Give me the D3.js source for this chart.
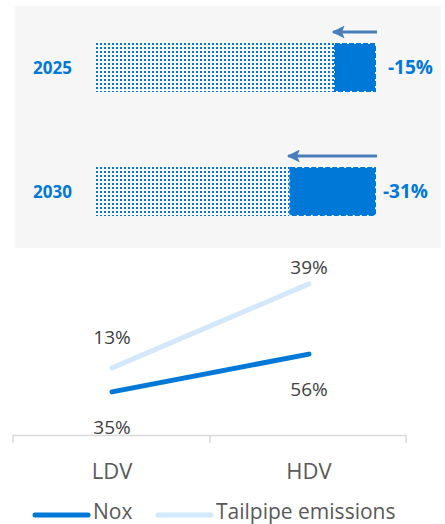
<!DOCTYPE html>
<meta charset="utf-8">
<script src="https://d3js.org/d3.v7.min.js"></script>
<style>
  body { margin: 0; background: #fff; font-family: "Open Sans", "Noto Sans", sans-serif; }
</style>
<div id="chart"></div>
<script>

// top panel: reduction targets
var years = ["2025", "2030"];
var reductions = [15, 31];   // % cut from the baseline

// bottom panel: LDV vs HDV
var vehicles = ["LDV", "HDV"];
var seriesNames = ["Nox", "Tailpipe emissions"];
var noxValues = [14.7, 27.3];       // plotted position (chart units)
var tailpipeValues = [22.7, 50.7];
var noxLabels = ["35%", "56%"];
var tailpipeLabels = ["13%", "39%"];

var blue = "#0078d7", lightBlue = "#d3e8fb", arrowBlue = "#4a7ebb";

var W = 445, H = 524;
var svg = d3.select("#chart").append("svg")
  .attr("width", W).attr("height", H);

// dotted fill for the remaining share
var defs = svg.append("defs");
defs.append("pattern")
  .attr("id", "dots")
  .attr("width", 4).attr("height", 4)
  .attr("patternUnits", "userSpaceOnUse")
  .attr("x", 96).attr("y", 43)
.append("rect")
  .attr("width", 2).attr("height", 2)
  .attr("fill", blue);

defs.append("marker")
  .attr("id", "head")
  .attr("viewBox", "0 0 10 10")
  .attr("refX", 9).attr("refY", 5)
  .attr("markerWidth", 5).attr("markerHeight", 4.6)
  .attr("orient", "auto")
.append("path")
  .attr("d", "M0,0 L10,5 L0,10 L2,5 Z")
  .attr("fill", arrowBlue);

// grey panel
svg.append("rect")
  .attr("x", 15).attr("y", 6)
  .attr("width", 426).attr("height", 242)
  .attr("fill", "#f6f6f6");

var x = d3.scaleLinear().domain([0, 100]).range([96, 376]);
var y = d3.scaleBand().domain(years).range([43, 216]).paddingInner(0.605);

var g = svg.append("g");
years.forEach(function(yr, i) {
  var top = y(yr), h = y.bandwidth();
  var cut = x(100 - reductions[i]);

  g.append("rect")
    .attr("x", x(0)).attr("y", top)
    .attr("width", cut - x(0)).attr("height", h)
    .attr("fill", "url(#dots)");

  g.append("rect")
    .attr("x", cut + 1).attr("y", top + 1)
    .attr("width", x(100) - cut - 2).attr("height", h - 2)
    .attr("fill", blue)
    .attr("stroke", blue)
    .attr("stroke-width", 2)
    .attr("stroke-dasharray", "5,2");

  g.append("line")
    .attr("x1", x(100) + 1).attr("x2", cut - 1)
    .attr("y1", top - 11).attr("y2", top - 11)
    .attr("stroke", arrowBlue)
    .attr("stroke-width", 2.8)
    .attr("marker-end", "url(#head)");

  g.append("text")
    .attr("x", 33).attr("y", top + 31)
    .attr("fill", blue)
    .style("font-size", "17px").style("font-weight", "bold")
    .text(yr);

  g.append("text")
    .attr("x", x(100) + (i == 0 ? 12 : 7)).attr("y", top + 31)
    .attr("fill", blue)
    .style("font-size", "19px").style("font-weight", "bold")
    .text("-" + reductions[i] + "%");
});

// line chart
var xb = d3.scalePoint().domain(vehicles).range([112, 309]);
var yl = d3.scaleLinear().domain([0, 60]).range([436, 256]);

svg.append("line")
  .attr("x1", 13).attr("x2", 406)
  .attr("y1", 435.5).attr("y2", 435.5)
  .attr("stroke", "#d9d9d9").attr("stroke-width", 1.5);
[13, 210, 406].forEach(function(tx) {
  svg.append("line")
    .attr("x1", tx).attr("x2", tx)
    .attr("y1", 435).attr("y2", 443)
    .attr("stroke", "#d9d9d9").attr("stroke-width", 1.5);
});

vehicles.forEach(function(v) {
  svg.append("text")
    .attr("x", xb(v)).attr("y", 479)
    .attr("text-anchor", "middle")
    .attr("fill", "#595959")
    .style("font-size", "22px")
    .text(v);
});

var line = d3.line()
  .x(function(d, i) { return xb(vehicles[i]); })
  .y(function(d) { return yl(d); });

svg.append("path")
  .datum(tailpipeValues)
  .attr("d", line)
  .attr("fill", "none")
  .attr("stroke", lightBlue)
  .attr("stroke-width", 5)
  .attr("stroke-linecap", "round");

svg.append("path")
  .datum(noxValues)
  .attr("d", line)
  .attr("fill", "none")
  .attr("stroke", blue)
  .attr("stroke-width", 5)
  .attr("stroke-linecap", "round");

// data labels: tailpipe above, nox below
var aboveDy = [-24, -10];
tailpipeValues.forEach(function(d, i) {
  svg.append("text")
    .attr("x", xb(vehicles[i])).attr("y", yl(d) + aboveDy[i])
    .attr("text-anchor", "middle")
    .attr("fill", "#404040")
    .style("font-size", "19px")
    .text(tailpipeLabels[i]);
});
noxValues.forEach(function(d, i) {
  svg.append("text")
    .attr("x", xb(vehicles[i])).attr("y", yl(d) + 42)
    .attr("text-anchor", "middle")
    .attr("fill", "#404040")
    .style("font-size", "19px")
    .text(noxLabels[i]);
});

// legend
var legendX = [35, 158];
var legendColors = [blue, lightBlue];
seriesNames.forEach(function(name, i) {
  svg.append("line")
    .attr("x1", legendX[i]).attr("x2", legendX[i] + 53)
    .attr("y1", 515).attr("y2", 515)
    .attr("stroke", legendColors[i])
    .attr("stroke-width", 5)
    .attr("stroke-linecap", "round");
  svg.append("text")
    .attr("x", legendX[i] + 58).attr("y", 519)
    .attr("fill", "#595959")
    .style("font-size", "21px")
    .text(name);
});
</script>
